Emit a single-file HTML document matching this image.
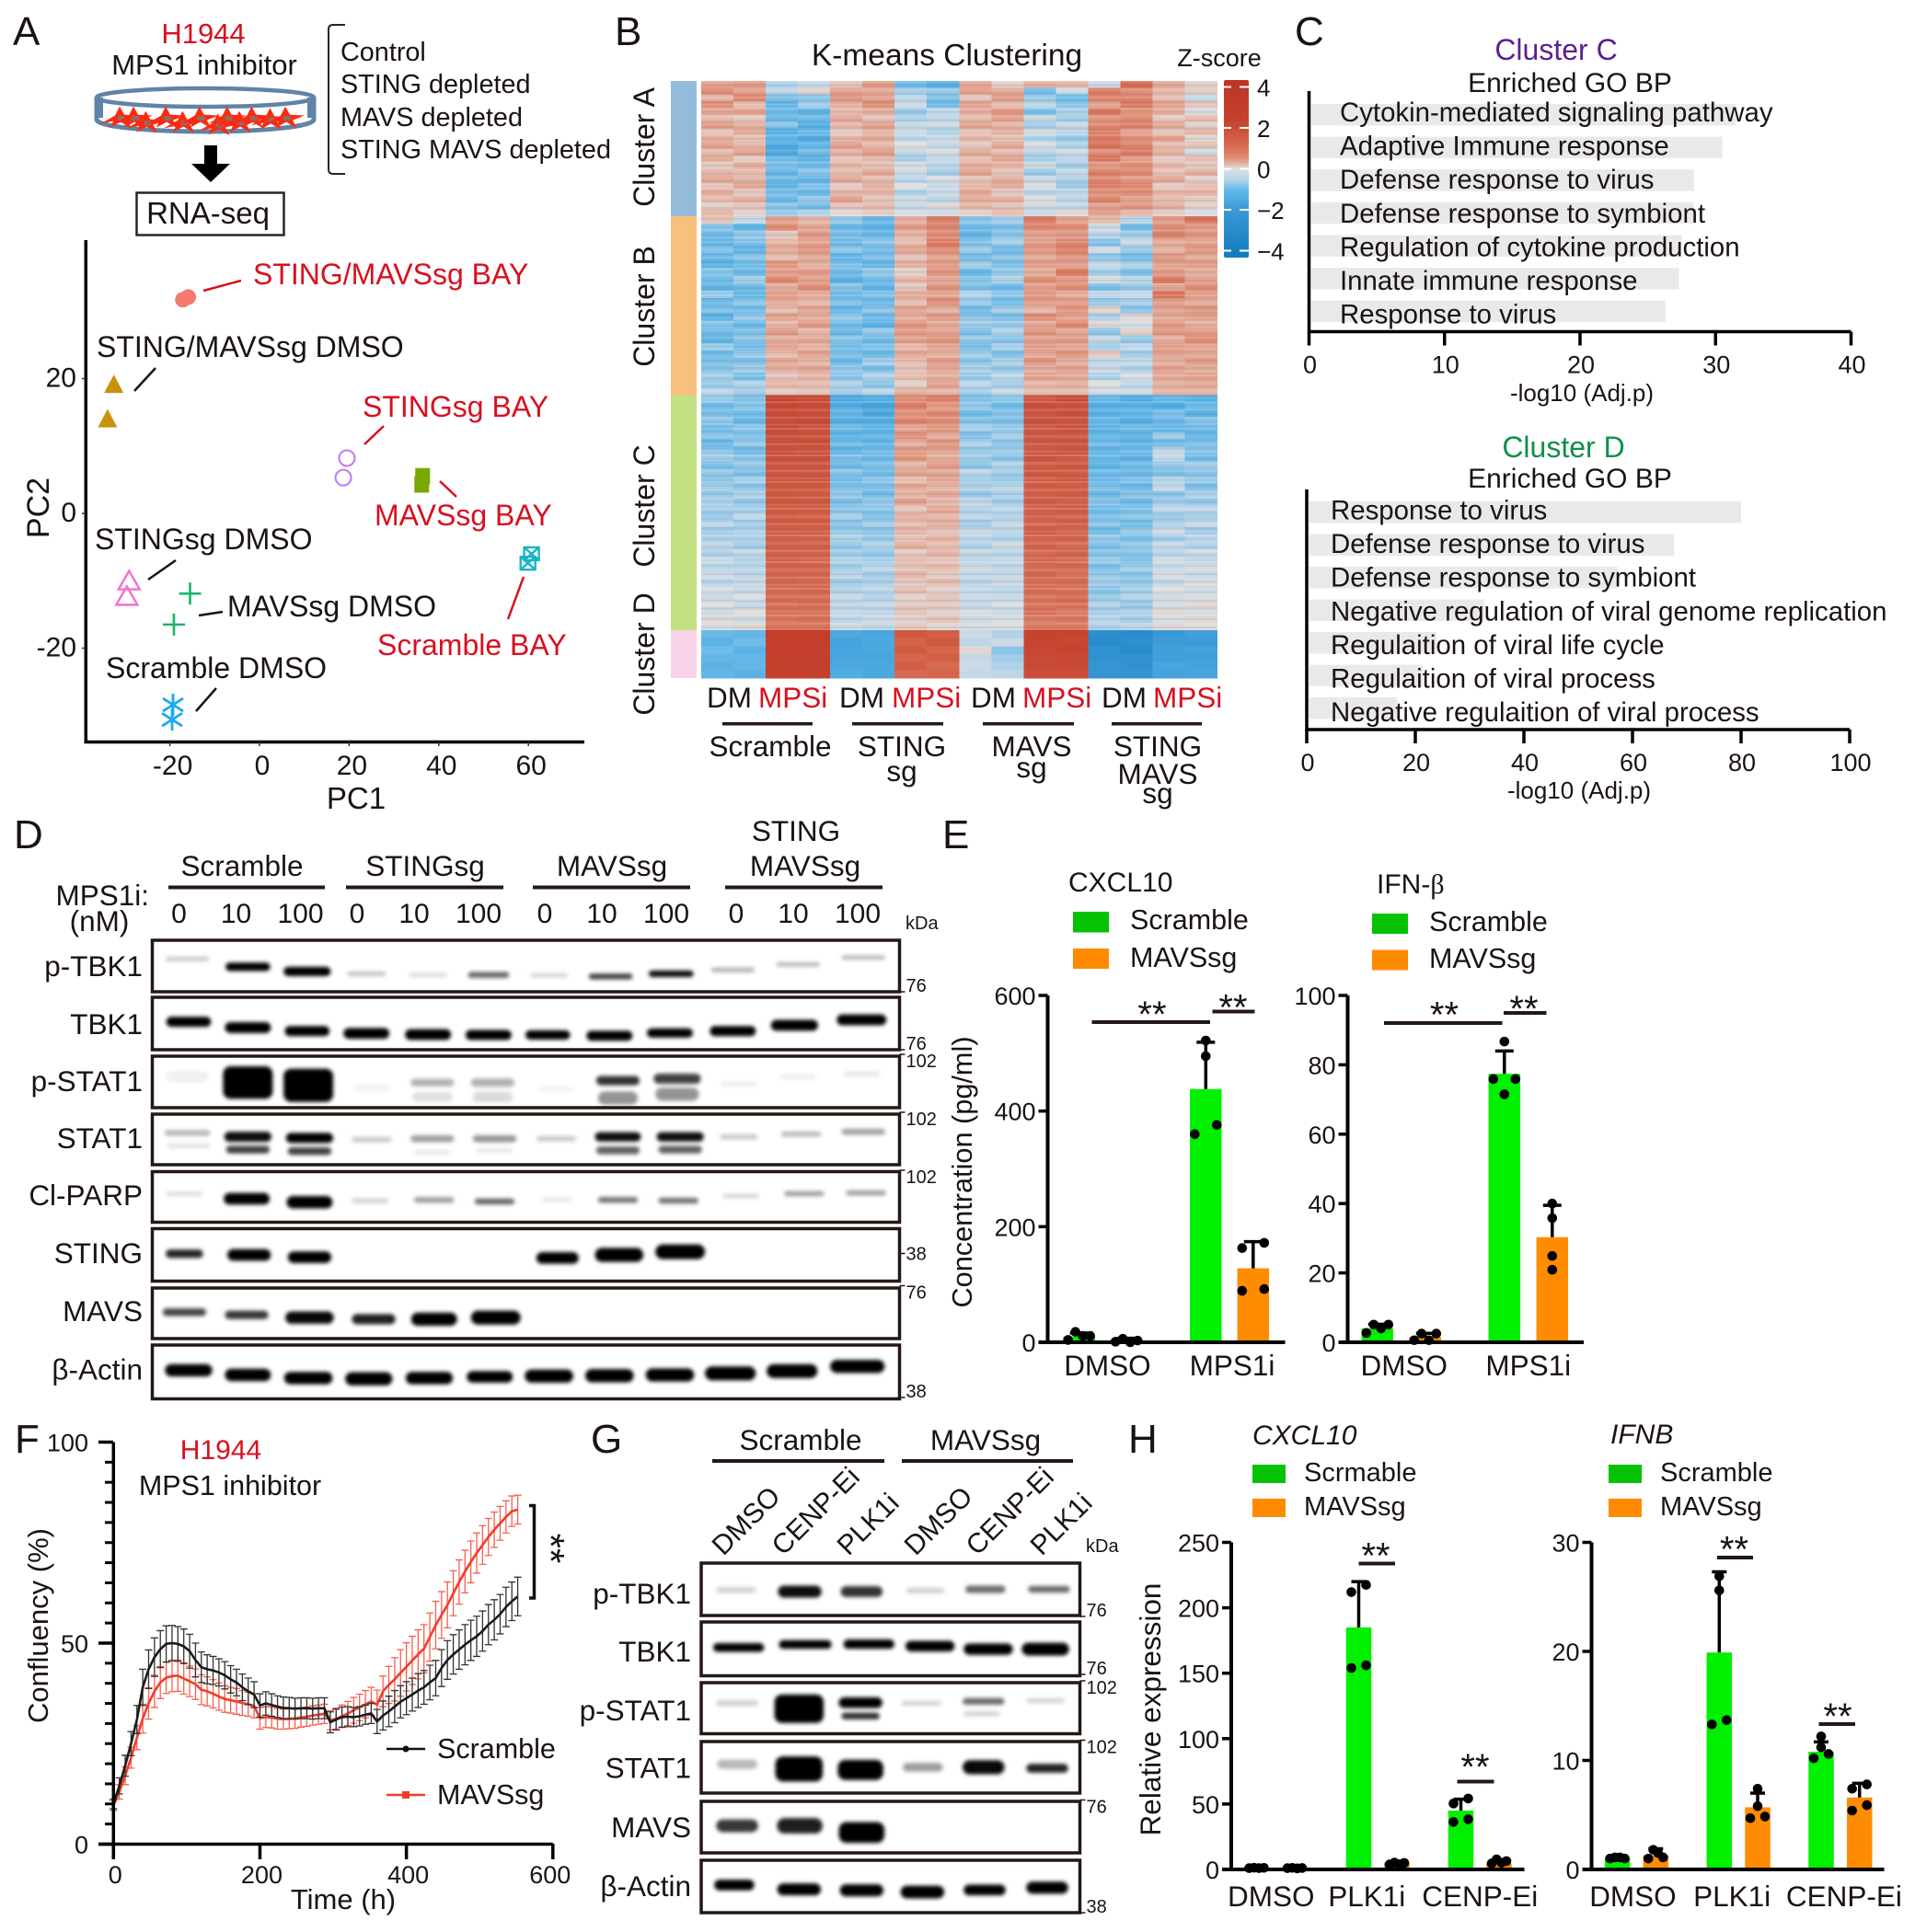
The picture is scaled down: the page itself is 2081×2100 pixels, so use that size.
<!DOCTYPE html>
<html lang="en">
<head>
<meta charset="utf-8">
<title>MPS1 inhibitor figure</title>
<style>
html,body{margin:0;padding:0;background:#fff;}
svg{display:block;}
text{font-family:"Liberation Sans",Arial,sans-serif;fill:#1a1311;}
.f44{font-size:44px;}.f32{font-size:32px;}.f315{font-size:31.5px;}.f31{font-size:31px;}.f30{font-size:30px;}.f29{font-size:29px;}.f294{font-size:29.4px;}
.f27{font-size:27px;}.f26{font-size:26px;}.f20{font-size:20px;}
.red{fill:#d8101f;}
.m{text-anchor:middle;}.e{text-anchor:end;}
</style>
</head>
<body>
<svg id="fig" xmlns="http://www.w3.org/2000/svg" width="2081" height="2100" viewBox="0 0 2081 2100">
<defs>
<filter id="blur" x="-5%" y="-30%" width="110%" height="160%"><feGaussianBlur stdDeviation="2.2"/></filter>
<linearGradient id="zgrad" x1="0" y1="0" x2="0" y2="1">
<stop offset="0" stop-color="#bd3326"/><stop offset=".23" stop-color="#c5432f"/><stop offset=".36" stop-color="#d5664c"/>
<stop offset=".44" stop-color="#e08e76"/><stop offset=".5" stop-color="#dedede"/><stop offset=".56" stop-color="#b8d6ea"/>
<stop offset=".62" stop-color="#62b8ec"/><stop offset=".73" stop-color="#3d98d5"/><stop offset="1" stop-color="#117bbd"/>
</linearGradient>
<pattern id="stripes" width="17" height="29" patternUnits="userSpaceOnUse">
<rect x="0" y="1" width="17" height="2" fill="#fff" fill-opacity=".16"/>
<rect x="0" y="5" width="17" height="1.500" fill="#5a5a7a" fill-opacity=".14"/>
<rect x="0" y="9" width="17" height="3" fill="#fff" fill-opacity=".1"/>
<rect x="0" y="14" width="17" height="2" fill="#5a5a7a" fill-opacity=".1"/>
<rect x="0" y="18" width="17" height="1.500" fill="#fff" fill-opacity=".18"/>
<rect x="0" y="22" width="17" height="2.500" fill="#5a5a7a" fill-opacity=".12"/>
<rect x="0" y="26" width="17" height="1.500" fill="#fff" fill-opacity=".12"/>
</pattern>
</defs>

<!-- Panel letters -->
<text class="f44" x="14" y="49">A</text>
<text class="f44" x="668" y="49">B</text>
<text class="f44" x="1407" y="49">C</text>
<text class="f44" x="15" y="922">D</text>
<text class="f44" x="1024" y="922">E</text>
<text class="f44" x="16" y="1579">F</text>
<text class="f44" x="642" y="1579">G</text>
<text class="f44" x="1226" y="1579">H</text>

<!-- Panel A schematic -->
<text class="f31 m red" x="221" y="47">H1944</text>
<text class="f31 m" x="222" y="81">MPS1 inhibitor</text>
<g id="dish">
<path d="M105 106 L105 130 A118 13 0 0 0 341 130 L341 106" fill="none" stroke="#5f84a6" stroke-width="5"/>
<path d="M105 106 L112 106 L112 128 L105 128 Z M341 106 L334 106 L334 128 L341 128 Z" fill="#5f84a6"/>
<ellipse cx="223" cy="106" rx="118" ry="10" fill="none" stroke="#5f84a6" stroke-width="4.5"/>
</g>
<path d="M222 158 h14 v20 h14 l-21 20 l-21 -20 h14 z" fill="#000"/>
<rect x="148.500" y="209.500" width="160" height="46" fill="none" stroke="#2b2320" stroke-width="2.500"/>
<text class="m" x="226" y="243" style="font-size:33px">RNA-seq</text>
<path d="M375 27 H362 Q357 27 357 32 V184 Q357 189 362 189 H375" fill="none" stroke="#2b2320" stroke-width="2"/>
<text style="font-size:28.8px" x="370" y="66">Control</text>
<text style="font-size:28.8px" x="370" y="101">STING depleted</text>
<text style="font-size:28.8px" x="370" y="137">MAVS depleted</text>
<text style="font-size:28.8px" x="370" y="172">STING MAVS depleted</text>

<!-- Panel A PCA -->
<g id="pca"></g>
<text class="m" x="387" y="879" style="font-size:33px">PC1</text>
<text class="m" transform="translate(53,552) rotate(-90)" style="font-size:34px">PC2</text>
<text class="f32 red" x="275" y="309">STING/MAVSsg BAY</text>
<text class="f32" x="105" y="388">STING/MAVSsg DMSO</text>
<text class="f32 red" x="394" y="453">STINGsg BAY</text>
<text class="f32 red" x="407" y="571">MAVSsg BAY</text>
<text class="f32" x="103" y="597">STINGsg DMSO</text>
<text class="f32" x="247" y="670">MAVSsg DMSO</text>
<text class="f32 red" x="410" y="712">Scramble BAY</text>
<text class="f32" x="115" y="737">Scramble DMSO</text>
<g fill="none" stroke-width="2.500">
<path d="M221 316 L262 305" stroke="#d8101f"/>
<path d="M146 425 L169 400" stroke="#1a1311"/>
<path d="M396 483 L417 463" stroke="#d8101f"/>
<path d="M478 523 L496 540" stroke="#d8101f"/>
<path d="M161 630 L191 609" stroke="#1a1311"/>
<path d="M216 669 L242 665" stroke="#1a1311"/>
<path d="M552 673 L569 627" stroke="#d8101f"/>
<path d="M213 773 L235 748" stroke="#1a1311"/>
</g>

<!-- Panel B heatmap -->
<text class="m" x="1029" y="71" style="font-size:33.5px">K-means Clustering</text>
<text class="f27 m" x="1325" y="72">Z-score</text>
<g id="heatmap" shape-rendering="crispEdges"></g>
<rect x="762" y="88" width="560.500" height="597" fill="url(#stripes)" shape-rendering="crispEdges"/>
<rect x="729" y="88" width="28" height="147" fill="#94bbd9"/>
<rect x="729" y="235" width="28" height="194.500" fill="#f9bf7c"/>
<rect x="729" y="429.500" width="28" height="255.500" fill="#c3e082"/>
<rect x="729" y="685" width="28" height="52" fill="#f9d3e8"/>
<text class="f32 m" transform="translate(711,160) rotate(-90)">Cluster A</text>
<text class="f32 m" transform="translate(711,333) rotate(-90)">Cluster B</text>
<text class="f32 m" transform="translate(711,550) rotate(-90)">Cluster C</text>
<text class="f32 m" transform="translate(711,711) rotate(-90)">Cluster D</text>
<rect x="1330" y="87" width="27" height="193" rx="2" fill="url(#zgrad)"/>
<g id="colorbar-ticks"></g>
<g class="f315">
<text x="768" y="769">DM</text><text class="red" x="824" y="769">MPSi</text>
<text x="912" y="769">DM</text><text class="red" x="969" y="769">MPSi</text>
<text x="1055" y="769">DM</text><text class="red" x="1111" y="769">MPSi</text>
<text x="1197" y="769">DM</text><text class="red" x="1253" y="769">MPSi</text>
<text class="m" x="837" y="822">Scramble</text>
<text class="m" x="980" y="822">STING</text>
<text class="m" x="980" y="849">sg</text>
<text class="m" x="1121" y="822">MAVS</text>
<text class="m" x="1121" y="845">sg</text>
<text class="m" x="1258" y="822">STING</text>
<text class="m" x="1258" y="852">MAVS</text>
<text class="m" x="1258" y="873">sg</text>
</g>
<g fill="#231815">
<rect x="785" y="785" width="98" height="3.500"/>
<rect x="926" y="785" width="99" height="3.500"/>
<rect x="1068" y="785" width="99" height="3.500"/>
<rect x="1208" y="785" width="98" height="3.500"/>
</g>

<!-- Panel C -->
<text class="f32 m" x="1691" y="65" style="fill:#5b1f8f">Cluster C</text>
<text class="f30 m" x="1706" y="100">Enriched GO BP</text>
<g id="go-c"></g>
<text class="f26 m" x="1719" y="436">-log10 (Adj.p)</text>
<text class="f32 m" x="1699" y="497" style="fill:#0f8f4a">Cluster D</text>
<text class="f30 m" x="1706" y="530">Enriched GO BP</text>
<g id="go-d"></g>
<text class="f26 m" x="1716" y="868">-log10 (Adj.p)</text>

<!-- Panel D -->
<g class="f315">
<text class="m" x="263" y="952">Scramble</text>
<text class="m" x="462" y="952">STINGsg</text>
<text class="m" x="665" y="952">MAVSsg</text>
<text class="m" x="865" y="914">STING</text>
<text class="m" x="875" y="952">MAVSsg</text>
<text class="e" x="162" y="984">MPS1i:</text>
<text class="m" x="108" y="1012">(nM)</text>
</g>
<g fill="#231815">
<rect x="183" y="962.500" width="170" height="4"/>
<rect x="376" y="962.500" width="171" height="4"/>
<rect x="579" y="962.500" width="171" height="4"/>
<rect x="788" y="962.500" width="171" height="4"/>
</g>
<text class="f20" x="984" y="1010">kDa</text>
<g id="blot-d"></g>

<!-- Panel E -->
<text class="f30" x="1161" y="969">CXCL10</text>
<text class="f30" x="1496" y="971">IFN-<tspan style="font-family:'Liberation Serif',serif">β</tspan></text>
<rect x="1166" y="991" width="39" height="22.500" fill="#05c205"/>
<text class="f30" x="1228" y="1010" style="font-size:30.5px">Scramble</text>
<rect x="1166" y="1031" width="39" height="22" fill="#ff8a00"/>
<text class="f30" x="1228" y="1051" style="font-size:30.5px">MAVSsg</text>
<rect x="1491" y="993" width="39" height="22" fill="#05c205"/>
<text class="f30" x="1553" y="1012" style="font-size:30.5px">Scramble</text>
<rect x="1491" y="1032.500" width="39" height="22" fill="#ff8a00"/>
<text class="f30" x="1553" y="1052" style="font-size:30.5px">MAVSsg</text>
<text class="m" transform="translate(1056,1274) rotate(-90)" style="font-size:30.7px">Concentration (pg/ml)</text>
<g id="e-cxcl"></g>
<g id="e-ifn"></g>

<!-- Panel F -->
<text class="f30 m red" x="240" y="1586">H1944</text>
<text class="m" x="250" y="1625" style="font-size:30.5px">MPS1 inhibitor</text>
<g id="growth"></g>
<text class="f31 m" x="373" y="2075">Time (h)</text>
<text class="f31 m" transform="translate(52,1767) rotate(-90)">Confluency (%)</text>
<path d="M420 1901 H462" stroke="#111" stroke-width="2.500"/>
<circle cx="441" cy="1901" r="3.500" fill="#111"/>
<text class="f30" x="475" y="1911" style="font-size:30.5px">Scramble</text>
<path d="M420 1951 H462" stroke="#f43b2a" stroke-width="2.500"/>
<rect x="437" y="1947" width="8" height="8" fill="#f43b2a"/>
<text class="f30" x="475" y="1961" style="font-size:30.5px">MAVSsg</text>
<path d="M575 1636.500 H580.500 V1737 H575" fill="none" stroke="#111" stroke-width="3.500"/>
<text class="m" transform="translate(607,1683) rotate(90)" y="23" style="font-size:42px">**</text>

<!-- Panel G -->
<g class="f315">
<text class="m" x="870" y="1576">Scramble</text>
<text class="m" x="1071" y="1576">MAVSsg</text>
</g>
<g class="f30">
<text transform="translate(786,1692) rotate(-45)">DMSO</text>
<text transform="translate(851,1692) rotate(-45)">CENP-Ei</text>
<text transform="translate(922,1692) rotate(-45)">PLK1i</text>
<text transform="translate(995,1692) rotate(-45)">DMSO</text>
<text transform="translate(1062,1692) rotate(-45)">CENP-Ei</text>
<text transform="translate(1132,1692) rotate(-45)">PLK1i</text>
</g>
<rect x="774" y="1586" width="187" height="4" fill="#231815"/>
<rect x="980" y="1586" width="186" height="4" fill="#231815"/>
<text class="f20" x="1180" y="1687">kDa</text>
<g id="blot-g"></g>

<!-- Panel H -->
<text class="f30" x="1361" y="1570" font-style="italic">CXCL10</text>
<text class="f30" x="1750" y="1569" font-style="italic">IFNB</text>
<rect x="1361" y="1592" width="36" height="20" fill="#05c205"/>
<text class="f29" x="1417" y="1610">Scrmable</text>
<rect x="1361" y="1629" width="36" height="20" fill="#ff8a00"/>
<text class="f29" x="1417" y="1647">MAVSsg</text>
<rect x="1748" y="1592" width="36" height="20" fill="#05c205"/>
<text class="f29" x="1804" y="1610">Scramble</text>
<rect x="1748" y="1629" width="36" height="20" fill="#ff8a00"/>
<text class="f29" x="1804" y="1647">MAVSsg</text>
<text class="f315 m" transform="translate(1261,1858) rotate(-90)">Relative expression</text>
<g id="h-cxcl"></g>
<g id="h-ifnb"></g>
</svg>

<script>
/* ---------- PCA data ---------- */
const pcaGroups=['sting-mavs-bay','sting-mavs-bay','sting-mavs-dmso','sting-mavs-dmso','sting-bay','sting-bay','mavs-bay','mavs-bay','scramble-bay','scramble-bay','sting-dmso','sting-dmso','mavs-dmso','mavs-dmso','scramble-dmso','scramble-dmso'];
const pcaPc1=[-17.1,-15.9,-32.5,-33.9,19.5,18.7,36.4,36.2,60.7,59.9,-29.1,-29.6,-15.5,-19.1,-19.3,-19.5];
const pcaPc2=[31.7,32.1,19.1,14,8.2,5.3,5.5,4.3,-6,-7.4,-9.9,-12.2,-11.9,-16.5,-28.4,-30.6];
const pcaXTicks=[-20,0,20,40,60];
const pcaYTicks=[20,0,-20];

/* ---------- Heatmap data (z-scores; 16 columns per row) ---------- */
const heatColumns=['S-DM1','S-DM2','S-MP1','S-MP2','T-DM1','T-DM2','T-MP1','T-MP2','M-DM1','M-DM2','M-MP1','M-MP2','TM-DM1','TM-DM2','TM-MP1','TM-MP2'];
const clusterA=[
[.9,1,-.5,-.3,.4,1,-1,-1.4,.8,.2,.7,.6,-.2,1.9,.8,.2],
[1.3,.9,-.4,.2,.9,.8,-.6,-.7,1,.8,-1,-.2,1.6,1.2,.6,.3],
[.6,1.3,-.9,-.8,1.1,.9,-.4,-.9,.4,1,-.7,-1,1.4,1.4,.5,-.3],
[1.2,.5,-1.2,-.6,.7,1.2,-.2,-1,.9,.5,-.4,-.8,.9,1.6,.9,.4],
[.8,.9,-1,-1.3,.5,.7,-.7,-.3,.7,1.1,-.9,-.5,1.7,1.1,.7,-.1],
[.5,.3,-1.1,-1,.8,.4,-.5,-.4,.5,.9,-.3,-.6,1.1,1.3,.3,.5],
[1,.7,-.8,-1.4,.6,.9,-.3,-.2,.9,.6,-.6,-.3,1.3,1.5,.8,.2],
[.4,.8,-1.4,-1.1,.3,.6,-.2,-.5,.4,.7,-.2,-.4,1.5,.9,.4,.6],
[.7,.4,-1.2,-1.5,.6,.8,-.4,-.2,.6,.4,-.5,-.7,1.6,1.2,.9,.1],
[.9,.6,-1.5,-1.2,.9,.5,0,-.3,.3,.8,-.1,-.5,1.8,1.4,.5,.4],
[.5,.9,-1.6,-1,.7,1,-.3,-.1,.8,.5,-.4,-.2,1.2,1.6,.7,-.2],
[.8,.3,-1.1,-1.3,.4,.6,-.6,-.3,.5,.9,-.6,-.4,1.7,1,.3,.5],
[.3,.7,-.9,-1,.6,.4,-.1,-.4,.7,.6,-.2,-.6,1,1.2,.6,.3],
[.6,.5,-1.2,-.8,.5,.8,-.2,-.6,.9,.4,-.7,-.3,1.5,1.3,.4,.7],
[.8,.6,-1,-1.2,.8,.5,-.4,-.1,.4,.7,-.3,-.5,1.3,1,.8,.2],
[.4,.9,-1.3,-.9,.3,.7,0,-.3,.6,.8,-.1,-.7,1.6,1.4,.3,.5],
[.7,.3,-.9,-1.1,.6,.6,-.5,-.2,.8,.3,-.4,-.3,1.1,1.2,.6,.6],
[.5,.7,-1.1,-.7,.9,.4,-.2,-.4,.7,.7,0,-.4,1.4,.9,.5,.3],
[.2,.4,-.8,-1,.4,.5,-.3,.1,.6,.4,-.2,-.3,.9,1.1,.7,.2],
[.6,.2,-.7,-.5,.1,.3,-.1,-.2,.2,.5,-.3,.1,1,.6,.3,-.1]];
const clusterB=[
[.4,-.3,.9,.6,-.7,-1.1,.7,1.5,-.8,-.6,1.6,.9,.5,-.4,1,1.7],
[-.8,-1.2,1.2,.8,-1.1,-1.3,1,1.4,-1,-.9,1.3,1.2,-.2,-1,1.2,1],
[-1,-.7,.3,1,-.9,-1.1,.6,1.2,-1.2,-.8,.9,1,-.4,-.6,1.4,1.1],
[-1.2,-.9,.6,.9,-1.1,-.8,.5,1.6,-.9,-.6,1,1.4,-.9,-.3,.8,.9],
[-.9,-1.3,.8,1.1,-.8,-1,.9,1.3,-.7,-1.1,1.1,1.5,-.2,-.7,.7,1.1],
[-1.1,-.8,.5,.8,-1.2,-.9,.4,.9,-1,-.8,.8,1.1,-.8,-1,1.1,.8],
[-1.3,-1,1.1,.7,-.9,-1.2,.7,1,-.6,-.9,1,.9,-.3,-.5,.9,1],
[-.8,-1.1,.9,1,-1,-.7,.2,1.1,-1.1,-.7,.7,1.6,-.6,-.9,1,.7],
[-1,-.6,1.3,.9,-1.3,-1,.6,.8,-.8,-.5,1.2,1,-.1,-.4,1.6,.9],
[-1.2,-1,.7,1.2,-.8,-1.2,.3,1.1,-.9,-1,.9,1.2,-.9,-.7,.8,1.2],
[-.7,-1.2,1,.8,-1.1,-.9,.8,.9,-.5,-.8,1.1,.8,-.4,-.3,1.8,1],
[-1.1,-.8,.8,.6,-.9,-1.1,.5,1.2,-.7,-1,1,1,-.7,-.6,1,.8],
[-.9,-1,.5,.9,-1.2,-.8,.9,.7,-1,-.6,.6,1.1,.2,-.8,.9,1.1],
[-1.3,-.7,.9,.7,-.7,-1,.7,1,-.8,-.9,1.2,.9,-.5,.1,.8,.9],
[-.8,-1.1,.6,1,-1,-1.3,1.1,.8,-.6,-.7,.8,1.3,.1,-.1,1,.7],
[-1,-.9,1,.6,-1.1,-.7,1,.9,-.9,-.5,1.1,.8,-.8,.2,1.1,1],
[-1.2,-.8,.7,.8,-.8,-1,.9,1.1,-.7,-.8,.9,1,-.3,-.7,.7,1.2],
[-.7,-1,.9,.7,-1,-.9,.6,.9,-1,-.6,1,.9,-.6,-.4,1,.9],
[-1,-.7,.5,.9,-.9,-1.1,.8,.7,-.6,-.9,.8,1.1,.3,-.6,.9,.8],
[-.9,-.9,.8,.6,-1.1,-.6,.5,1,-.8,-.5,1.1,.7,-.4,-.3,.7,1],
[-.8,-.6,.7,.8,-.7,-.9,.4,.8,-.5,-.7,.7,.9,-.2,-.5,.9,.7],
[-.6,-.9,.4,.6,-.8,-.5,.5,.7,-.7,-.4,.9,.8,-.5,-.1,.8,.9],
[-.7,-.5,.6,.5,-.5,-.8,.2,.9,-.4,-.6,.6,.7,0,-.4,.7,.8],
[-.4,-.6,.3,.4,-.6,-.4,.7,.6,-.6,-.3,.5,.5,-.2,-.2,.6,.6]];
const clusterC=[
[-.7,-.9,3,2.9,-1.6,-1.5,1.3,1.6,-.9,-.8,2.5,2.8,-1.2,-1.5,-1.2,-1.4],
[-1,-.8,2.9,2.8,-1.5,-1.7,1.5,1,-.7,-1,2.7,2.6,-1.4,-1.3,-1.5,-1],
[-.9,-1,2.8,2.7,-1.2,-1.6,1.1,1.3,-1,-.8,2.5,2.7,-1.3,-1.2,-.9,-1.3],
[-.7,-1.1,2.7,2.8,-1.4,-1.4,1.4,1.2,-.8,-.9,2.6,2.5,-1.1,-1.4,-1.1,-.8],
[-1,-.8,2.8,2.6,-1.1,-1.3,.9,1.1,-.6,-.7,2.4,2.6,-1.3,-1.1,-1.2,-1.1],
[-.8,-.9,2.7,2.6,-1.3,-1.2,1.2,.8,-.9,-.6,2.5,2.4,-1.2,-1.3,-.7,-1.2],
[-1.1,-.7,2.6,2.7,-1,-1.2,.7,1.1,-.5,-.8,2.4,2.5,-1,-1.2,-1,-.9],
[-.8,-1,2.6,2.5,-1.2,-1,1,.9,-.7,-.6,2.3,2.5,-1.2,-1,-.4,-.8],
[-.6,-.8,2.6,2.6,-.9,-1.1,1.1,.7,-.6,-.8,2.5,2.3,-1.1,-1.3,-.3,-1],
[-.9,-.7,2.5,2.5,-1.1,-.9,.6,1,-.8,-.5,2.3,2.4,-1.3,-1,-.7,-.6],
[-.7,-.9,2.5,2.4,-.8,-1,.9,.8,-.4,-.6,2.4,2.3,-1,-1.1,-.9,-.8],
[-.8,-.6,2.5,2.5,-1,-.8,.5,.9,-.6,-.7,2.2,2.4,-1.1,-.9,-.5,-.7],
[-.6,-.8,2.4,2.4,-.9,-.9,.8,.6,-.5,-.4,2.3,2.2,-.9,-1.1,-.3,-.9],
[-.7,-.5,2.4,2.3,-.7,-1,.6,.8,-.7,-.5,2.2,2.3,-1.1,-.8,-.8,-.5],
[-.5,-.7,2.4,2.4,-.9,-.7,.9,.5,-.3,-.6,2.3,2.1,-.8,-1,-.6,-.7],
[-.6,-.6,2.3,2.3,-.8,-.8,.4,.8,-.5,-.4,2.1,2.3,-1,-.9,-.4,-.4],
[-.7,-.4,2.3,2.2,-.6,-.9,.7,.6,-.4,-.5,2.2,2.1,-.9,-.8,-.7,-.6],
[-.4,-.6,2.3,2.3,-.8,-.6,.5,.7,-.6,-.3,2,2.2,-.8,-1,-.5,-.3],
[-.6,-.5,2.2,2.2,-.7,-.8,.6,.4,-.3,-.4,2.2,2,-1,-.7,-.2,-.6],
[-.5,-.5,2.2,2.1,-.5,-.7,.4,.6,-.4,-.5,2,2.1,-.7,-.9,-.6,-.4],
[-.4,-.6,2.2,2.2,-.7,-.5,.7,.5,-.5,-.2,2.1,1.9,-.9,-.7,-.3,-.5],
[-.5,-.3,2.1,2.1,-.6,-.7,.3,.6,-.3,-.4,1.9,2.1,-.8,-.8,-.4,-.2],
[-.3,-.5,2.1,2,-.5,-.6,.5,.4,-.4,-.3,2,1.9,-.7,-.9,-.2,-.4],
[-.4,-.4,2.1,2.1,-.6,-.4,.4,.5,-.2,-.4,1.9,2,-.9,-.6,-.3,-.1],
[-.2,-.4,2,2,-.4,-.6,.6,.3,-.3,-.3,2,1.8,-.7,-.8,-.1,-.3],
[-.4,-.2,2,1.9,-.6,-.5,.3,.5,-.4,-.2,1.8,1.9,-.6,-.7,-.3,0],
[-.1,-.3,1.9,2,-.5,-.4,.5,.2,-.3,-.4,1.9,1.8,-.8,-.6,0,-.2],
[-.3,-.1,1.9,1.9,-.3,-.5,.2,.4,-.2,-.3,1.8,1.9,-.7,-.5,-.2,-.1],
[0,-.3,1.8,1.9,-.4,-.3,.3,.3,-.3,-.1,1.7,1.8,-.5,-.7,-.1,.1],
[-.2,0,1.8,1.8,-.3,-.4,.4,.2,-.1,-.2,1.8,1.6,-.6,-.5,.1,-.1],
[.1,-.2,1.7,1.8,-.4,-.2,.2,.4,-.2,-.1,1.6,1.7,-.4,-.6,-.1,.1],
[-.1,.1,1.7,1.7,-.2,-.3,.3,.1,-.1,0,1.6,1.6,-.5,-.4,.1,0]];
const clusterD=[
[-1.1,-1.2,3.3,3.3,-1.6,-1.7,2.4,2.2,-.2,-.5,3,3,-2.4,-2.5,-2.1,-1.9],
[-1.3,-1,3.3,3.3,-1.8,-1.6,2.1,2.4,-.4,-.2,3,2.9,-2.5,-2.4,-2,-2],
[-1,-1.3,3.3,3.2,-1.7,-1.6,2.3,2,.1,-.8,2.9,3,-2.3,-2.5,-1.9,-1.8],
[-1.2,-1.2,3.2,3.3,-1.7,-1.7,2,2.2,-.3,-.6,2.8,2.9,-2.3,-2.3,-1.9,-1.9],
[-1.3,-1.2,3.2,3.2,-1.6,-1.6,2.2,1.9,-.2,-.5,2.8,2.8,-2.2,-2.3,-1.7,-1.8],
[-1.2,-1.3,3.2,3.2,-1.5,-1.6,1.9,2,-.3,-.4,2.7,2.7,-2.2,-2.2,-1.8,-1.7]];

/* ---------- GO enrichment data ---------- */
const goCTerms=['Cytokin-mediated signaling pathway','Adaptive Immune response','Defense response to virus','Defense response to symbiont','Regulation of cytokine production','Innate immune response','Response to virus'];
const goCValues=[31.5,30.5,28.4,28.4,27.5,27.3,26.3];
const goCTicks=[0,10,20,30,40];
const goDTerms=['Response to virus','Defense response to virus','Defense response to symbiont','Negative regulation of viral genome replication','Regulaition of viral life cycle','Regulaition of viral process','Negative regulaition of viral process'];
const goDValues=[80,67.7,57.2,32.7,23.9,21.4,16.7];
const goDTicks=[0,20,40,60,80,100];

/* ---------- Panel E data ---------- */
const eCategories=['DMSO','MPS1i'];
const eCxclTicks=[0,200,400,600];
const eCxclScrambleMean=[10,438];
const eCxclMavsMean=[5,128];
const eCxclScrambleUpper=[16,519];
const eCxclMavsUpper=[7,174];
const eCxclScrambleDots=[[4,18,11,11],[522,495,360,376]];
const eCxclMavsDots=[[1,6,0,3],[163,172,89,92]];
const eIfnTicks=[0,20,40,60,80,100];
const eIfnScrambleMean=[4,77.4];
const eIfnMavsMean=[1.5,30.3];
const eIfnScrambleUpper=[5.2,84];
const eIfnMavsUpper=[2.6,39.5];
const eIfnScrambleDots=[[2.7,5.1,4,5.1],[86.7,75.9,75.9,71.5]];
const eIfnMavsDots=[[.6,2.5,.6,2.5],[40,35.8,24.9,20.9]];

/* ---------- Panel F data ---------- */
const fTicksX=[0,200,400,600];
const fTicksY=[0,50,100];
const fTime=[0,8,16,24,32,40,48,56,64,72,80,88,96,104,112,120,128,136,144,152,160,168,176,184,192,200,208,216,224,232,240,248,256,264,272,280,288,296,304,312,320,328,336,344,352,360,368,376,384,392,400,408,416,424,432,440,448,456,464,472,480,488,496,504,512,520,528,536,544,552];
const fScrambleMean=[10,14.5,19.5,25,31,39,43.5,46.5,48.5,49.8,50,49.8,49.2,48,45.8,44,43.5,43.2,42.7,42,41,40.2,39,38,37.2,34.5,35,34.6,34.2,33.9,33.8,33.7,33.8,33.8,33.7,33.8,33.8,30.3,31,31.6,31.7,31.6,31.8,32.2,32.5,30.5,32,33,34.2,35.4,36.3,37.2,38.2,39,40.2,41.3,43.8,45.8,47.2,48.4,49.6,50.7,51.7,53,54.6,55.8,57.2,59,60.4,61.6];
const fScrambleSd=[1.2,2,2.6,3,3.5,4.5,4.8,4.8,4.6,4.5,4.4,4.3,4.3,4.2,4.2,3.8,3.6,3.5,3.4,3.4,3.4,3.3,3.3,3.3,3.2,2.9,2.9,2.8,2.7,2.7,2.7,2.6,2.6,2.6,2.6,2.6,2.6,2.6,2.6,2.5,2.5,2.4,2.4,2.4,2.5,3,3.6,3.8,4,4,4.1,4.1,4.2,4.2,4.3,4.4,4.6,4.8,4.9,4.9,5,5,5,5,5,5,4.9,4.9,4.8,4.8];
const fMavsMean=[9.6,13,17,21.5,26.5,31.2,35,38,40.2,41.4,41.8,41.9,41.2,40.5,39.8,38.4,38,37.4,36.7,36.1,35.8,35.5,35.1,34.8,34.4,31.3,31.6,31.5,31.2,31.1,31.2,31.3,31.5,31.7,32,32.2,32.4,30.8,31.2,31.8,32.5,33.3,34,34.8,35.5,34.7,38,39.6,41,42.6,44.1,45.7,47.2,48.6,51.5,54.5,57,59.5,62.4,65.2,67.8,70.2,72.4,74.4,76.4,78.2,79.8,81.4,82.8,83.2];
const fMavsSd=[1.2,1.8,2.2,2.6,3,3.6,3.9,4,4,3.9,3.9,3.9,3.9,3.8,3.8,3.7,3.6,3.5,3.4,3.3,3.2,3.2,3.1,3,3,2.7,2.6,2.6,2.6,2.5,2.5,2.5,2.4,2.4,2.4,2.4,2.4,2.4,2.6,2.8,3,3.2,3.3,3.4,3.5,3.6,3.8,4.6,5.4,5.8,6,6,6.1,6,6,5.9,5.8,5.7,5.6,5.5,5.3,5.2,5,4.8,4.6,4.4,4.2,4,3.8,3.6];

/* ---------- Panel H data ---------- */
const hCategories=['DMSO','PLK1i','CENP-Ei'];
const hCxclTicks=[0,50,100,150,200,250];
const hCxclScrambleMean=[1,185,45];
const hCxclMavsMean=[1,5,4.5];
const hCxclScrambleUpper=[1.4,220,53.7];
const hCxclMavsUpper=[1.3,6,7];
const hCxclScrambleDots=[[1,1.3,1,1.2],[212,217.5,154,156],[50.4,54.2,36.3,38.4]];
const hCxclMavsDots=[[1,1.2,.8,1.1],[3.8,5.2,4,5],[4.6,7.7,5.1,6.4]];
const hIfnbTicks=[0,10,20,30];
const hIfnbScrambleMean=[1,19.9,10.8];
const hIfnbMavsMean=[1.3,5.7,6.6];
const hIfnbScrambleUpper=[1.2,27.3,11.7];
const hIfnbMavsUpper=[1.9,7,7.9];
const hIfnbScrambleDots=[[1,1.1,1.1,1],[26.9,25.6,13.3,13.7],[12.2,11.2,10.2,10.6]];
const hIfnbMavsDots=[[1,1.8,1.5,1.1],[7.4,5.8,4.7,4.85],[7.4,7.8,5.4,5.9]];

/* ---------- Western-blot band traces (image x, image y, width, height, darkness) ---------- */
const blotDLabels=['p-TBK1','TBK1','p-STAT1','STAT1','Cl-PARP','STING','MAVS','β-Actin'];
const blotDFrames=[[1022,1078],[1084,1141],[1148,1204],[1211,1266],[1273.500,1328.500],[1335.500,1392.500],[1400,1455],[1462,1520.500]];
const blotDLabelY=[1061,1124,1186,1248,1310,1373,1436,1499.500];
const blotDMarkers=[['76',1078,0],['76',1141,0],['102',1160,-14],['102',1223,-14],['102',1286,-14],['38',1369.500,-7],['76',1411.500,-14],['38',1519,0]];
const blotDLanes=['0','10','100','0','10','100','0','10','100','0','10','100'];
const blotDBands=[
[310,386,72,12,.2],[410,406,74,22,1],[508,418,78,24,1],[606,424,64,13,.22],[708,427,62,11,.14],[808,427,68,15,.6],[908,428,62,11,.17],[1010,431,72,15,.75],[1110,424,74,17,.95],[1212,414,72,13,.28],[1320,400,72,11,.28],[1428,382,72,11,.28],
[312,548,74,26,1],[410,563,76,28,1],[508,572,74,26,1],[606,578,76,28,1],[708,581,76,28,1],[808,582,76,26,1],[906,582,74,24,1],[1008,584,76,26,1],[1108,577,76,24,1],[1212,572,76,26,1],[1314,557,78,28,1],[1425,543,82,28,1],
[310,690,70,30,.06],[410,705,82,84,1],[510,712,82,86,1],[615,720,60,18,.05],[715,705,72,20,.3],[715,742,66,26,.12],[815,705,72,22,.3],[815,742,66,28,.14],[920,722,60,14,.05],[1022,700,72,24,.8],[1022,745,66,34,.42],[1120,695,78,26,.75],[1120,735,72,34,.42],[1222,708,60,12,.08],[1320,690,60,12,.07],[1425,683,60,12,.1],
[310,835,76,15,.28],[312,868,70,11,.12],[410,845,78,26,.95],[410,878,72,20,.75],[512,848,78,26,1],[512,882,72,20,.75],[615,852,66,13,.22],[715,850,72,18,.38],[715,885,60,9,.12],[818,850,72,18,.42],[818,880,60,9,.12],[920,850,66,13,.22],[1022,845,76,24,.95],[1022,880,72,20,.62],[1125,845,78,24,.95],[1125,878,72,20,.62],[1222,845,62,13,.22],[1325,838,66,13,.28],[1428,832,72,15,.38],
[305,992,60,11,.14],[408,1005,76,30,1],[512,1014,76,32,1],[612,1010,60,13,.17],[718,1008,66,15,.38],[818,1012,66,15,.6],[920,1008,50,11,.1],[1022,1008,66,15,.55],[1122,1010,66,15,.55],[1225,998,60,11,.17],[1330,992,66,13,.38],[1432,990,66,13,.38],
[305,1147,62,22,.85],[412,1150,72,30,1],[512,1156,72,30,1],[922,1158,70,30,1],[1024,1150,80,36,1],[1125,1142,82,38,1],
[305,1298,72,20,.72],[408,1305,72,22,.78],[512,1312,80,32,.97],[618,1316,72,26,.88],[718,1316,76,34,1],[820,1312,82,36,1],
[312,1448,78,32,1],[410,1460,76,32,1],[510,1468,80,32,1],[610,1470,78,34,1],[710,1468,78,32,1],[810,1465,76,30,1],[908,1463,80,34,1],[1008,1462,80,34,1],[1108,1460,80,34,1],[1208,1456,84,36,1],[1310,1450,84,36,1],[1418,1438,90,34,1]];
const blotGLabels=['p-TBK1','TBK1','p-STAT1','STAT1','MAVS','β-Actin'];
const blotGFrames=[[1699,1756],[1763,1821.500],[1829,1884.500],[1893,1949],[1958,2014],[2022,2079]];
const blotGLabelY=[1743,1806,1870,1932.500,1997,2061];
const blotGMarkers=[['76',1757,0],['76',1820,0],['102',1841,-14],['102',1905.500,-14],['76',1970.500,-14],['38',2079,0]];
const blotGBands=[
[455,545,110,17,.18],[630,550,120,36,.95],[800,550,115,32,.8],[975,547,105,17,.18],[1140,543,110,22,.58],[1315,543,115,20,.58],
[462,717,140,26,1],[645,708,145,26,1],[820,707,140,28,1],[988,713,135,32,1],[1148,722,135,34,1],[1305,722,130,38,1],
[458,883,115,18,.18],[628,900,135,85,1],[797,882,120,32,1],[797,922,105,20,.82],[965,884,110,14,.18],[1135,878,115,20,.58],[1130,915,100,14,.18],[1305,876,105,14,.18],
[458,1066,110,28,.28],[628,1080,130,75,1],[797,1083,125,60,1],[968,1075,110,26,.38],[1135,1075,115,42,.97],[1310,1078,115,26,.88],
[458,1250,115,38,.78],[630,1250,125,46,.88],[800,1270,125,62,1],
[450,1427,110,32,1],[628,1440,120,36,1],[800,1443,120,36,1],[967,1448,120,38,1],[1138,1442,115,32,1],[1310,1435,115,36,1]];

/* ---------- helpers ---------- */
const NS='http://www.w3.org/2000/svg';
const INK='#000';
function mk(tag,attrs,parent){
  const n=document.createElementNS(NS,tag);
  for(const k in attrs){n.setAttribute(k,attrs[k]);}
  parent.appendChild(n);
  return n;
}
function txt(str,attrs,parent){
  const n=mk('text',attrs,parent);
  n.textContent=str;
  return n;
}
const heatStops=[[-4,[17,123,189]],[-2.5,[42,139,204]],[-1.5,[80,172,226]],[-1,[112,188,232]],[-.4,[188,214,232]],[0,[222,222,222]],[.5,[230,188,174]],[1.2,[224,142,118]],[2,[213,102,76]],[3,[197,67,47]],[4,[189,51,38]]];
function heatColor(v){
  const z=Math.max(-4,Math.min(4,v));
  for(let i=1;i<heatStops.length;i++){
    if(z<=heatStops[i][0]){
      const a=heatStops[i-1],b=heatStops[i],t=(z-a[0])/(b[0]-a[0]);
      return 'rgb('+a[1].map((c,j)=>Math.round(c+(b[1][j]-c)*t)).join(',')+')';
    }
  }
  return 'rgb(189,51,38)';
}

/* ---------- dish decoration ---------- */
(function(){
  const dish=document.getElementById('dish');
  const cellX=[120,165,205,270,325,380,440,470,510,550,610,660];
  const cellY=[125,125,140,125,140,125,148,125,140,125,130,125];
  cellX.forEach((zx,i)=>{
    const x=90+zx/3,y=85+cellY[i]/3;
    const cell=mk('path',{d:`M${x-21} ${y+8} L${x-5} ${y-1} L${x} ${y-11} L${x+5} ${y-2} L${x+21} ${y-1} L${x+8} ${y+4} L${x+13} ${y+13} L${x+1} ${y+6} L${x-10} ${y+12} L${x-7} ${y+5} Z`,fill:'#fb2a10'},dish);
    
    
    const nucleus=mk('ellipse',{cx:x+2,cy:y+2,rx:4.500,ry:2.800,fill:'#8f6d62'},dish);
    
    
  });
})();

/* ---------- PCA ---------- */
(function(){
  const g=document.getElementById('pca');
  const xS=v=>282+4.87*v;
  const yS=v=>558-7.325*v;
  const yAxis=mk('path',{d:'M93.300 261 V806.500',stroke:INK,'stroke-width':3.500,fill:'none'},g);
  
  
  const xAxis=mk('path',{d:'M91.500 806.500 H635',stroke:INK,'stroke-width':3.500,fill:'none'},g);
  
  
  pcaXTicks.forEach(t=>{
    const tick=mk('line',{x1:xS(t),x2:xS(t),y1:806,y2:811,stroke:'#333','stroke-width':1.500},g);
    
    
    const lab=txt(String(t),{class:'f30 m',x:xS(t)+3,y:842},g);
    
    
  });
  pcaYTicks.forEach(t=>{
    const tick=mk('line',{x1:89,x2:93,y1:yS(t),y2:yS(t),stroke:'#333','stroke-width':1.500},g);
    
    
    const lab=txt(String(t),{class:'f30 e',x:83,y:yS(t)+9},g);
    
    
  });
  pcaGroups.forEach((grp,i)=>{
    const x=xS(pcaPc1[i]),y=yS(pcaPc2[i]);
    let d='',attrs={};
    if(grp==='sting-mavs-bay'){
      const m=mk('circle',{cx:x,cy:y,r:8.500,fill:'#f47c6f'},g);
      
      
      return;
    }
    if(grp==='sting-bay'){
      const m=mk('circle',{cx:x,cy:y,r:8.500,fill:'none',stroke:'#c283f0','stroke-width':2.200},g);
      
      
      return;
    }
    if(grp==='sting-mavs-dmso'){d=`M${x-10.500} ${y+9} L${x} ${y-11} L${x+10.500} ${y+9} Z`;attrs={fill:'#c8920a'};}
    if(grp==='sting-dmso'){d=`M${x-11.500} ${y+10} L${x} ${y-10} L${x+11.500} ${y+10} Z`;attrs={fill:'none',stroke:'#f46fd0','stroke-width':2.400};}
    if(grp==='mavs-bay'){d=`M${x-8} ${y-9} H${x+8} V${y+9} H${x-8} Z`;attrs={fill:'#7aa800'};}
    if(grp==='scramble-bay'){d=`M${x-8} ${y-7} H${x+8} V${y+7} H${x-8} Z M${x-8} ${y-7} L${x+8} ${y+7} M${x+8} ${y-7} L${x-8} ${y+7}`;attrs={fill:'none',stroke:'#17b5c1','stroke-width':2.400};}
    if(grp==='mavs-dmso'){d=`M${x-12} ${y} H${x+12} M${x} ${y-12} V${y+12}`;attrs={fill:'none',stroke:'#1db46a','stroke-width':2.600};}
    if(grp==='scramble-dmso'){d=`M${x} ${y-12} V${y+12} M${x-11} ${y-7} L${x+11} ${y+7} M${x+11} ${y-7} L${x-11} ${y+7}`;attrs={fill:'none',stroke:'#1da8ef','stroke-width':2.800};}
    attrs.d=d;
    const m=mk('path',attrs,g);
    
    
  });
})();

/* ---------- Heatmap ---------- */
(function(){
  const g=document.getElementById('heatmap');
  const x0=762,x1=1322.500;
  const colX=c=>x0+(x1-x0)*c/heatColumns.length;
  const blocks=[[clusterA,88,235],[clusterB,235,429.500],[clusterC,429.500,685],[clusterD,685,737]];
  blocks.forEach(b=>{
    const rows=b[0],top=b[1],bot=b[2];
    const rowY=r=>top+(bot-top)*r/rows.length;
    rows.forEach((row,r)=>{
      row.forEach((v,c)=>{
        const cell=mk('rect',{x:colX(c),y:rowY(r),width:colX(c+1)-colX(c)+.5,height:rowY(r+1)-rowY(r)+.5,fill:heatColor(v)},g);
        
        
      });
    });
  });
  const cb=document.getElementById('colorbar-ticks');
  const zTicks=[4,2,0,-2,-4];
  const zY=v=>183.500-22.250*v*1;
  zTicks.forEach(t=>{
    const dash=mk('line',{x1:1330,x2:1357,y1:zY(t),y2:zY(t),stroke:'#fff','stroke-width':2,'stroke-dasharray':'8 9 10'},cb);
    
    
    const lab=txt(t<0?'−'+Math.abs(t):String(t),{class:'f26',x:1366,y:zY(t)+10},cb);
    
    
  });
})();

/* ---------- GO bars ---------- */
function drawGo(id,terms,values,ticks,cfg){
  const g=document.getElementById(id);
  const xS=v=>cfg.x0+v*(cfg.x1-cfg.x0)/ticks[ticks.length-1];
  terms.forEach((term,i)=>{
    const bar=mk('rect',{x:cfg.x0+2.500,y:cfg.barY+i*cfg.pitch,width:xS(values[i])-cfg.x0-2.500,height:23.500,fill:'#e9e9e9'},g);
    
    
  });
  terms.forEach((term,i)=>{
    const lab=txt(term,{class:'f294',x:cfg.labelX,y:cfg.labelY+i*36.600},g);
    
    
  });
  const axis=mk('path',{d:`M${cfg.x0} ${cfg.top} V${cfg.axisY} H${cfg.x1}`,fill:'none',stroke:INK,'stroke-width':3.500},g);
  
  
  ticks.forEach(t=>{
    const tick=mk('line',{x1:xS(t),x2:xS(t),y1:cfg.axisY,y2:cfg.axisY+15,stroke:INK,'stroke-width':3.500},g);
    
    
    const lab=txt(String(t),{class:'f27 m',x:xS(t)+1,y:cfg.axisY+45},g);
    
    
  });
}
drawGo('go-c',goCTerms,goCValues,goCTicks,{x0:1422.500,x1:2011.500,axisY:360.500,top:99,barY:113,pitch:35.600,labelX:1456,labelY:132});
drawGo('go-d',goDTerms,goDValues,goDTicks,{x0:1420,x1:2010,axisY:793,top:532,barY:545,pitch:35.500,labelX:1446,labelY:564.500});

/* ---------- Blots ---------- */
function drawBlot(id,cfg){
  const g=document.getElementById(id);
  cfg.frames.forEach(f=>{
    const fr=mk('rect',{x:cfg.left,y:f[0],width:cfg.right-cfg.left,height:f[1]-f[0],fill:'#fff'},g);
    
    
  });
  const bandG=mk('g',{filter:'url(#blur)'},g);
  
  
  cfg.bands.forEach(b=>{
    const w=b[2]*cfg.sx,h=b[3]*cfg.sy;
    const band=mk('rect',{x:cfg.ox+b[0]*cfg.sx-w/2,y:cfg.oy+b[1]*cfg.sy-h/2,width:w,height:h,rx:Math.min(w,h,16)/2,fill:'#000','fill-opacity':b[4]},bandG);
    
    
  });
  cfg.frames.forEach((f,i)=>{
    const fr=mk('rect',{x:cfg.left,y:f[0],width:cfg.right-cfg.left,height:f[1]-f[0],fill:'none',stroke:'#231815','stroke-width':3.500},g);
    
    
    const lab=txt(cfg.labels[i],{class:'f315 e',x:cfg.labelRight,y:cfg.labelY[i]},g);
    
    
  });
  cfg.markers.forEach(m=>{
    const lab=txt(m[0],{class:'f20',x:cfg.right+7,y:m[1]},g);
    
    
    const tick=mk('line',{x1:cfg.right,x2:cfg.right+6,y1:m[1]+m[2],y2:m[1]+m[2],stroke:'#231815','stroke-width':1.500},g);
    
    
  });
}
drawBlot('blot-d',{frames:blotDFrames,labels:blotDLabels,labelY:blotDLabelY,markers:blotDMarkers,bands:blotDBands,left:165.500,right:977.500,labelRight:155,sx:1/1.522,sy:1/2.376,ox:0,oy:880});
drawBlot('blot-g',{frames:blotGFrames,labels:blotGLabels,labelY:blotGLabelY,markers:blotGMarkers,bands:blotGBands,left:762,right:1173.500,labelRight:751,sx:1/2.529,sy:1/2.75,ox:620,oy:1530});
(function(){
  const g=document.getElementById('blot-d');
  const groupStart=[194.500,388,592,800];
  const laneOffset=[0,62,132];
  const doseX=i=>groupStart[Math.floor(i/3)]+laneOffset[i%3];
  blotDLanes.forEach((d,i)=>{
    const lab=txt(d,{class:'f30 m',x:doseX(i),y:1003},g);
    
    
  });
})();

/* ---------- Bar charts ---------- */
function drawBars(id,cfg){
  const g=document.getElementById(id);
  const top=cfg.ticks[cfg.ticks.length-1];
  const yS=v=>cfg.y0-v*(cfg.y0-cfg.y1)/top;
  const xS=(grp,ser)=>cfg.x0+grp*cfg.groupStep+ser*cfg.seriesStep;
  const colors=['#00f000','#ff8c00'];
  cfg.series.forEach((s,si)=>{
    s.means.forEach((m,gi)=>{
      const cx=xS(gi,si);
      const bar=mk('rect',{x:cx-cfg.barW/2,y:yS(m),width:cfg.barW,height:cfg.y0-yS(m),fill:colors[si]},g);
      
      
      const stem=mk('line',{x1:cx,x2:cx,y1:yS(m),y2:yS(s.upper[gi]),stroke:'#000','stroke-width':3.500},g);
      
      
      const cap=mk('line',{x1:cx-cfg.capW/2,x2:cx+cfg.capW/2,y1:yS(s.upper[gi]),y2:yS(s.upper[gi]),stroke:'#000','stroke-width':3.500},g);
      
      
    });
  });
  cfg.series.forEach((s,si)=>{
    s.dots.forEach((vals,gi)=>{
      const cx=xS(gi,si);
      let start=0;
      for(let i=1;i<=vals.length;i++){
        if(i===vals.length||Math.abs(yS(vals[i])-yS(vals[i-1]))>=11){
          const n=i-start;
          for(let j=start;j<i;j++){
            const off=n===1?0:-cfg.spread+(j-start)*2*cfg.spread/(n-1);
            const dot=mk('circle',{cx:cx+off,cy:yS(vals[j]),r:5.300,fill:'#000'},g);
            
            
          }
          start=i;
        }
      }
    });
  });
  const axis=mk('path',{d:`M${cfg.xa} ${cfg.y1} V${cfg.y0} M${cfg.xa-10} ${cfg.y0} H${cfg.xEnd}`,fill:'none',stroke:'#000','stroke-width':4},g);
  
  
  cfg.ticks.forEach(t=>{
    const tick=mk('line',{x1:cfg.xa-10,x2:cfg.xa,y1:yS(t),y2:yS(t),stroke:'#000','stroke-width':3.500},g);
    
    
    const lab=txt(String(t),{class:'f27 e',x:cfg.xa-13,y:yS(t)+10},g);
    
    
  });
  cfg.categories.forEach((c,i)=>{
    const lab=txt(c,{class:'f315 m',x:xS(i,.5)+cfg.labelShift[i],y:cfg.labelY},g);
    
    
  });
  cfg.sig.forEach(s=>{
    const bracket=mk('rect',{x:s.x1,y:s.y-2,width:s.x2-s.x1,height:4,fill:'#231815'},g);
    
    
    const star=txt('**',{class:'m',x:s.sx,y:s.sy+22,style:'font-size:40px'},g);
    
    
  });
}
drawBars('e-cxcl',{categories:eCategories,ticks:eCxclTicks,series:[{means:eCxclScrambleMean,upper:eCxclScrambleUpper,dots:eCxclScrambleDots},{means:eCxclMavsMean,upper:eCxclMavsUpper,dots:eCxclMavsDots}],x0:1172.700,groupStep:137.600,seriesStep:51.500,barW:34.500,capW:20,spread:12,xa:1138.500,xEnd:1396.500,y0:1459,y1:1082,labelY:1495,labelShift:[5,3],sig:[{x1:1186.500,x2:1315,y:1111,sx:1252,sy:1094},{x1:1317.500,x2:1363.500,y:1099.500,sx:1340,sy:1086.500}]});
drawBars('e-ifn',{categories:eCategories,ticks:eIfnTicks,series:[{means:eIfnScrambleMean,upper:eIfnScrambleUpper,dots:eIfnScrambleDots},{means:eIfnMavsMean,upper:eIfnMavsUpper,dots:eIfnMavsDots}],x0:1496.800,groupStep:138,seriesStep:52,barW:34.500,capW:20,spread:12,xa:1464.500,xEnd:1721,y0:1459,y1:1082,labelY:1495,labelShift:[3,0],sig:[{x1:1504,x2:1632.500,y:1112,sx:1569.500,sy:1094.500},{x1:1634,x2:1680.500,y:1101,sx:1656,sy:1088}]});
drawBars('h-cxcl',{categories:hCategories,ticks:hCxclTicks,series:[{means:hCxclScrambleMean,upper:hCxclScrambleUpper,dots:hCxclScrambleDots},{means:hCxclMavsMean,upper:hCxclMavsUpper,dots:hCxclMavsDots}],x0:1365.500,groupStep:111,seriesStep:41.500,barW:27.500,capW:16,spread:8,xa:1338,xEnd:1656.500,y0:2032,y1:1676.500,labelY:2072,labelShift:[-5,-12,0],sig:[{x1:1476.500,x2:1516,y:1699.500,sx:1495,sy:1682.500},{x1:1583.500,x2:1623.500,y:1936.500,sx:1603,sy:1912}]});
drawBars('h-ifnb',{categories:hCategories,ticks:hIfnbTicks,series:[{means:hIfnbScrambleMean,upper:hIfnbScrambleUpper,dots:hIfnbScrambleDots},{means:hIfnbMavsMean,upper:hIfnbMavsUpper,dots:hIfnbMavsDots}],x0:1757.600,groupStep:110.700,seriesStep:41.700,barW:27.500,capW:16,spread:8,xa:1729.500,xEnd:2047.500,y0:2032,y1:1676.500,labelY:2072,labelShift:[-4,-7,4],sig:[{x1:1866,x2:1905,y:1693,sx:1884.500,sy:1675.500},{x1:1976.500,x2:2016,y:1874,sx:1997,sy:1857}]});

/* ---------- Confluency curves ---------- */
(function(){
  const g=document.getElementById('growth');
  const xS=t=>123.300+t*(600.800-123.300)/600;
  const yS=v=>2004.500-v*(2004.500-1567.500)/100;
  function series(means,sds,color,barColor){
    means.forEach((m,i)=>{
      const x=xS(fTime[i]),hi=yS(m+sds[i]),lo=yS(m-sds[i]);
      const eb=mk('path',{d:`M${x} ${lo} V${hi} M${x-4} ${hi} H${x+4} M${x-4} ${lo} H${x+4}`,fill:'none',stroke:barColor,'stroke-width':1.300},g);
      
      
    });
    const pts=means.map((m,i)=>xS(fTime[i]).toFixed(1)+','+yS(m).toFixed(1)).join(' ');
    const ln=mk('polyline',{points:pts,fill:'none',stroke:color,'stroke-width':2.600},g);
    
    
  }
  series(fMavsMean,fMavsSd,'#f43b2a','#f6604e');
  series(fScrambleMean,fScrambleSd,'#1a1a1a','#333');
  const axes=mk('path',{d:'M123.300 1567.500 V2020 M107 2004.500 H600.800',fill:'none',stroke:'#000','stroke-width':3.500},g);
  
  
  fTicksX.forEach(t=>{
    const tick=mk('line',{x1:xS(t),x2:xS(t),y1:2004,y2:2021,stroke:'#000','stroke-width':3.500},g);
    
    
    const lab=txt(String(t),{class:'f27 m',x:xS(t)+(t===600?-3:2),y:2047},g);
    
    
  });
  for(let v=5;v<100;v+=5){
    if(v%50===0){continue;}
    const minor=mk('line',{x1:114,x2:123,y1:yS(v),y2:yS(v),stroke:'#000','stroke-width':3},g);
    
    
  }
  fTicksY.forEach(t=>{
    const tick=mk('line',{x1:107,x2:123,y1:yS(t),y2:yS(t),stroke:'#000','stroke-width':3.500},g);
    
    
    const lab=txt(String(t),{class:'f27 e',x:96,y:yS(t)+10},g);
    
    
  });
})();
</script>
</body>
</html>
